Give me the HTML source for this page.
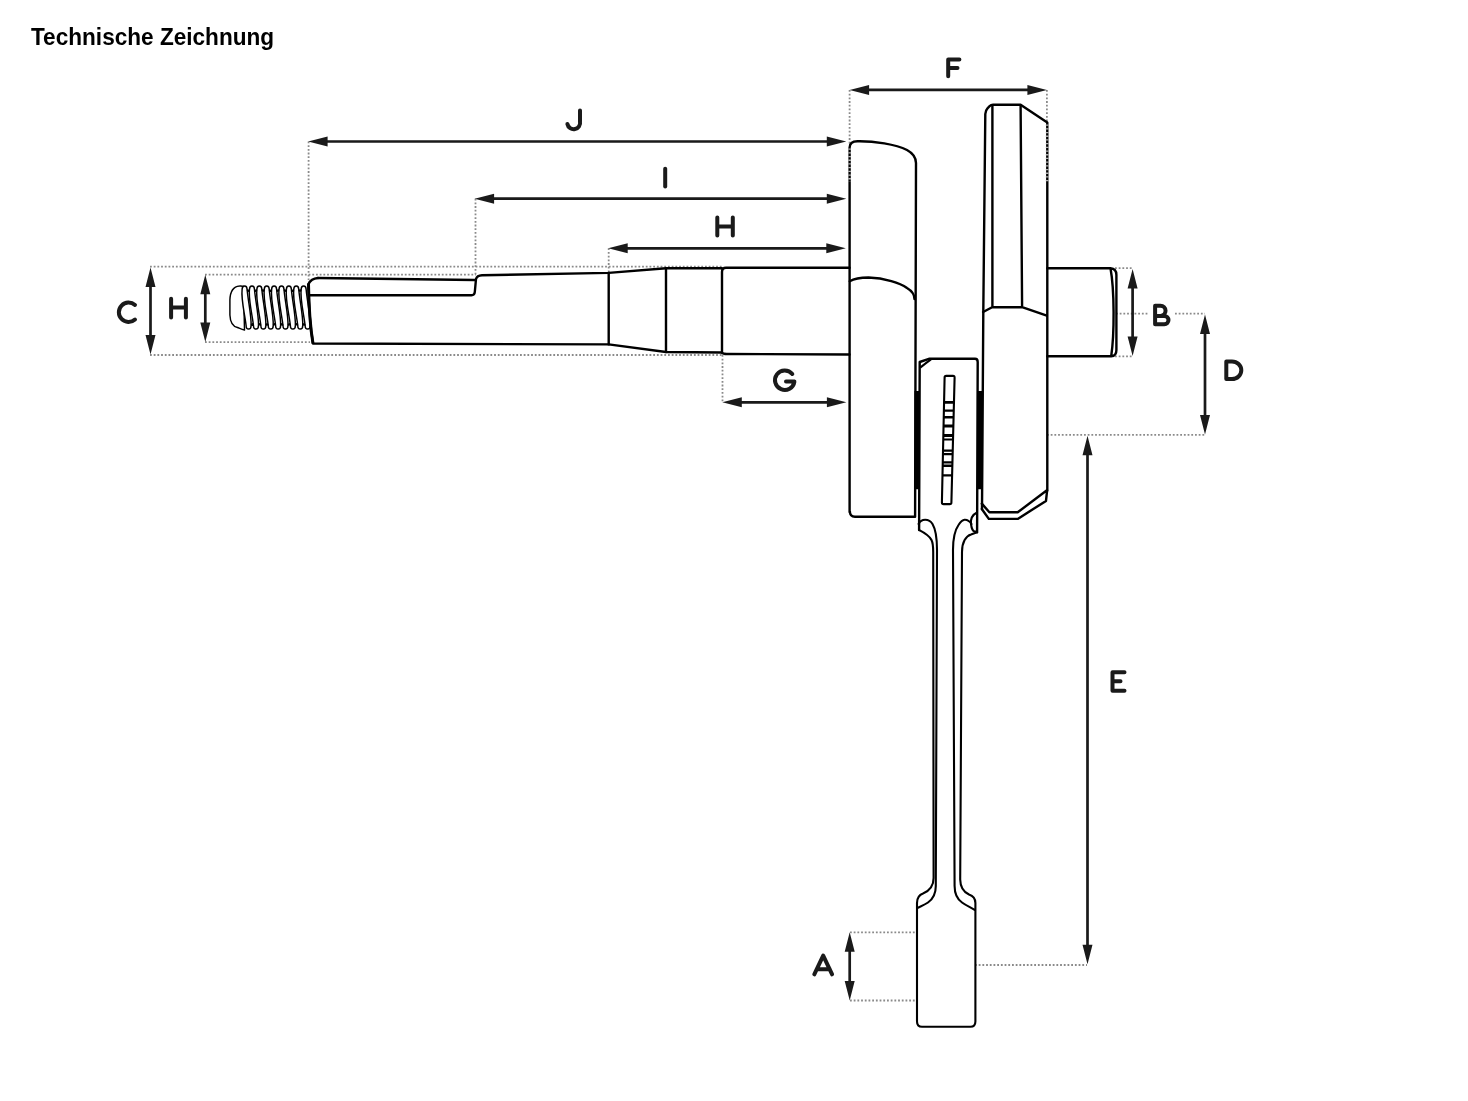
<!DOCTYPE html>
<html><head><meta charset="utf-8">
<style>
html,body{margin:0;padding:0;background:#fff;width:1468px;height:1101px;overflow:hidden}
.title{position:absolute;left:31.3px;top:23px;transform:scaleY(1.05);transform-origin:0 21.8px;font-family:"Liberation Sans",sans-serif;font-weight:bold;font-size:22.6px;letter-spacing:0px;color:#000;white-space:nowrap;line-height:30px;will-change:transform}
svg{position:absolute;left:0;top:0}
</style></head><body>
<div class="title">Technische Zeichnung</div>
<svg width="1468" height="1101" viewBox="0 0 1468 1101">
<!-- dotted extension lines -->
<g stroke="#8a8a8a" stroke-width="1.8" stroke-dasharray="1.8 1.9" fill="none">
<path d="M150 266.7H722 M205 274.7H476 M205 342.2H310 M150 355H722"/>
<path d="M308.6 141.5V280 M475.5 198.7V275 M608.7 248.3V273 M722.5 355V402.3"/>
<path d="M849.6 90V145 M1046.9 90V125"/>
<path d="M1115 268.2H1133.5 M1115 356.3H1133.5 M1116 313.6H1148 M1175 313.6H1205 M1047 434.9H1205"/>
<path d="M850 932.3H916 M850 1000.5H916 M975 965H1087"/>
</g>
<!-- dimension arrows -->
<g stroke="#1a1a1a" stroke-width="2.7" fill="none">
<path d="M150.5 285V337 M205.3 293V324 M326 141.5H828 M493 198.7H828 M626 248.3H828 M867 89.9H1029 M740 402.3H828 M1132.6 287V338 M1205 332V416 M1087.5 454V946 M849.7 950V982"/>
</g>
<g fill="#1a1a1a">
<path d="M150.5 267.4l5 19.5h-10z M150.5 354.5l5 -19.5h-10z"/>
<path d="M205.3 274.7l5 19.5h-10z M205.3 342.1l5 -19.5h-10z"/>
<path d="M308.1 141.5l19.5 -5v10z M846.3 141.5l-19.5 -5v10z"/>
<path d="M474.6 198.7l19.5 -5v10z M846.3 198.7l-19.5 -5v10z"/>
<path d="M608.2 248.3l19.5 -5v10z M845.8 248.3l-19.5 -5v10z"/>
<path d="M849.6 89.9l19.5 -5v10z M1046.9 89.9l-19.5 -5v10z"/>
<path d="M722.3 402.3l19.5 -5v10z M846.4 402.3l-19.5 -5v10z"/>
<path d="M1132.6 268.9l5 19.5h-10z M1132.6 356l5 -19.5h-10z"/>
<path d="M1205 314.5l5 19.5h-10z M1205 434.4l5 -19.5h-10z"/>
<path d="M1087.5 435.7l5 19.5h-10z M1087.5 964.3l5 -19.5h-10z"/>
<path d="M849.7 932.3l5 19.5h-10z M849.7 1000.4l5 -19.5h-10z"/>
</g>
<!-- letters -->
<g stroke="#1a1a1a" stroke-width="4" fill="none" stroke-linecap="round" stroke-linejoin="round">
<path d="M135 305 A9.7 9.7 0 1 0 135 319.5"/>
<path d="M171.1 298.7V317.5 M185.9 298.7V317.5 M171.1 307.6H185.9"/>
<path d="M717.3 217.4V235.6 M732.8 217.4V235.6 M717.3 226.5H732.8"/>
<path d="M580 110.5V121.5 A6.3 6.3 0 0 1 567.4 124"/>
<path d="M665.2 168.7V186.4"/>
<path d="M948.2 76.3V59.6H959.4 M948.2 68H957.5"/>
<path d="M792.3 374 A9.75 9.75 0 1 0 794.4 381.6 H786"/>
<path d="M1155.1 324.3V305.8H1160.5 A5.05 5.05 0 0 1 1160.5 315.9H1155.1 M1160.5 315.9H1164.3 A4.2 4.2 0 0 1 1164.3 324.3H1155.1"/>
<path d="M1226.3 361.4V379.1H1232 A9.3 8.85 0 0 0 1232 361.4Z"/>
<path d="M1124.5 672.2H1112.5V690.7H1124.5 M1112.5 681.2H1120.5"/>
<path d="M814.3 974.3L823.2 955.6L832.1 974.3 M816.8 969.2H829.8"/>
</g>
<!-- main outlines -->
<g stroke="#000" stroke-width="2.4" fill="none" stroke-linejoin="round" stroke-linecap="round">
<!-- shaft left -->
<path d="M318 278 L474.5 280 M309.5 295.3 H471.5 Q474.5 295.3 474.8 292 L476 279 Q477 275.5 482 275.2 L608.7 272.9 L666 268.3 H722"/>
<path d="M308.5 284 Q311 278.5 318 278"/>
<path d="M308.5 284 Q309 320 313 343.5 L608.7 344.4 L666 352 L722 352.5"/>
<path d="M608.7 273V344.4 M666 268.3V352"/>
<path d="M722 352.7 V272 Q722 267.7 726 267.7 H849.6 M722 352.7 Q723 354 727 354 L849.6 354.5"/>
<!-- web 1 -->
<path d="M849.6 512 V147.5 C849.6 143 852 141.3 857.5 141.2 C874 140.9 896 144.5 907 150 C912.5 153 916 157 916 163 L915.1 516.7 H855 Q849.8 516.7 849.8 511"/>
<path d="M849.7 281.2 C855 278 862 277.5 868.5 277.5 C885 278 900 283 907 288 C912 291 914.5 295 914.5 299"/>
<!-- web 2 -->
<path d="M982 509 L983.3 312 L985.3 114 Q985.4 110.5 987.5 108.3 L989.6 106.2 Q991 104.8 993 104.8 H1020.6 L1047.3 122.6 V490.5"/>
<path d="M992.4 105.4 V307.2 M1020.6 105.4 L1022.1 307.2 M983.1 312 L992.1 307.2 H1022.1 L1046.8 315.7"/>
<path d="M981.8 503.6 L989.4 512.3 H1017.7 L1046.6 490.5 M981.8 509 L988.8 518.9 H1017.7 L1046 500.9 L1047.1 490.5"/>
<!-- right shaft -->
<path d="M1047.3 268.2 H1110.5 C1114.5 290 1114.5 334 1111.2 356.3 H1047.3 M1110.5 268.2 Q1116.4 268.5 1116.4 275 V350 Q1116.4 356 1111.2 356.3"/>
<!-- con rod -->
<path d="M919.1 530 L919.7 362 L928.9 358.8 H975 Q977.7 358.8 977.7 362 L977.1 532.3"/>
</g>
<g stroke="#000" stroke-width="2.1" fill="none" stroke-linejoin="round" stroke-linecap="round">
<path d="M919.1 530 C923 532 929 535 931.5 540 C933 543 933.2 547 933.2 552 L933.6 878 C933.6 886 929 891 923 893.5 C919 895 917 898 917 903 V1021.5 Q917 1026.8 922 1026.8 H970.4 Q975.4 1026.8 975.4 1021.5 V903 C975.4 898 972 895.5 969 894.5 C963.5 892 960.3 886 960.2 879.5 L962 552 C962 542 966 536 971 534.5 L977.1 532.3"/>
<path d="M918.6 524 C920 521 922.5 519.8 925.2 519.8 C928.5 519.8 931 521.5 932.5 524 C935.5 529 937 538 937 550 L935.8 886 C935.8 893 933 899 928 902.5 C924.5 905 920 906.5 917.2 908"/>
<path d="M971.5 524 C969.5 521 967 519.6 964.5 519.8 C962.5 520 960.5 522 958.5 525 C955 530 953 538 953 550 L954.6 886 C954.6 893 957 899 962 902.5 C966 905.5 971 907.5 975 910"/>
<path d="M971 524 C970.5 519 973 514.5 977 512.5 M971 524 C971.5 528 972.5 531 974.5 531.5 H977"/>
</g>
<g stroke="#000" stroke-width="2.4" fill="none" stroke-linejoin="round" stroke-linecap="round">
<!-- slot -->
</g>
<g stroke="#000" stroke-width="2.1" fill="none" stroke-linejoin="round">
<path d="M946.2 375.9 H953 Q954.7 375.9 954.6 377.6 L951.4 502.4 Q951.4 504.1 949.7 504.1 H943.6 Q941.9 504.1 941.9 502.4 L944.6 377.6 Q944.6 375.9 946.2 375.9Z"/>
<path d="M920.2 367.6 C924 364.5 927.5 361.8 931 359.3"/>
</g>
<!-- slot bars -->
<g fill="#000">
<path d="M944.0 400.9H953.9v2.8H944.0z M943.9 409.4H953.7v2.4H943.9z M943.7 416.1H953.6v2.4H943.7z M943.5 424.4H953.3v3.2H943.5z M943.3 433.9H953.1v3.2H943.3z M943.3 438.4H953.0v2.2H943.3z M943.0 449.6H952.7v2.2H943.0z M943.0 453.0H952.6v2.3H943.0z M942.8 461.3H952.4v2.2H942.8z M942.7 464.5H952.4v2.5H942.7z M942.5 474.3H952.1v2.3H942.5z"/>
<!-- thick bearing bands -->
<path d="M914.5 391h5v98.3h-5z M977.6 391h5v98.3h-5z"/>
</g>
<!-- thread -->
<g stroke="#000" stroke-width="1.45" fill="#fff" stroke-linejoin="round">
<path d="M239.5 286 C233.5 286.5 230.2 291 229.9 300 V315 C230.2 322 233 326.5 237.5 327.5 C240 328.5 242 329.5 244.5 330 L243.5 286.5 C242.5 286 241 285.8 239.5 286Z"/>
<path d="M242.10 289.5 C242.10 284.8 247.10 284.8 247.10 289.5 C248.00 300 251.50 316 251.10 325.5 C251.10 330.3 246.10 330.3 246.10 325.5 C244.90 315 240.90 299 242.10 289.5Z"/>
<path d="M249.48 289.5 C249.48 284.8 254.48 284.8 254.48 289.5 C255.38 300 258.88 316 258.48 325.5 C258.48 330.3 253.48 330.3 253.48 325.5 C252.28 315 248.28 299 249.48 289.5Z"/>
<path d="M256.86 289.5 C256.86 284.8 261.86 284.8 261.86 289.5 C262.76 300 266.26 316 265.86 325.5 C265.86 330.3 260.86 330.3 260.86 325.5 C259.66 315 255.66 299 256.86 289.5Z"/>
<path d="M264.24 289.5 C264.24 284.8 269.24 284.8 269.24 289.5 C270.14 300 273.64 316 273.24 325.5 C273.24 330.3 268.24 330.3 268.24 325.5 C267.04 315 263.04 299 264.24 289.5Z"/>
<path d="M271.62 289.5 C271.62 284.8 276.62 284.8 276.62 289.5 C277.52 300 281.02 316 280.62 325.5 C280.62 330.3 275.62 330.3 275.62 325.5 C274.42 315 270.42 299 271.62 289.5Z"/>
<path d="M279.00 289.5 C279.00 284.8 284.00 284.8 284.00 289.5 C284.90 300 288.40 316 288.00 325.5 C288.00 330.3 283.00 330.3 283.00 325.5 C281.80 315 277.80 299 279.00 289.5Z"/>
<path d="M286.38 289.5 C286.38 284.8 291.38 284.8 291.38 289.5 C292.28 300 295.78 316 295.38 325.5 C295.38 330.3 290.38 330.3 290.38 325.5 C289.18 315 285.18 299 286.38 289.5Z"/>
<path d="M293.76 289.5 C293.76 284.8 298.76 284.8 298.76 289.5 C299.66 300 303.16 316 302.76 325.5 C302.76 330.3 297.76 330.3 297.76 325.5 C296.56 315 292.56 299 293.76 289.5Z"/>
<path d="M301.14 289.5 C301.14 284.8 306.14 284.8 306.14 289.5 C307.04 300 310.54 316 310.14 325.5 C310.14 330.3 305.14 330.3 305.14 325.5 C303.94 315 299.94 299 301.14 289.5Z"/>
<path fill="none" d="M247.10 289.5L248.29 291.3L249.48 289.5 M251.10 325.5L252.29 323.7L253.48 325.5 M254.48 289.5L255.67 291.3L256.86 289.5 M258.48 325.5L259.67 323.7L260.86 325.5 M261.86 289.5L263.05 291.3L264.24 289.5 M265.86 325.5L267.05 323.7L268.24 325.5 M269.24 289.5L270.43 291.3L271.62 289.5 M273.24 325.5L274.43 323.7L275.62 325.5 M276.62 289.5L277.81 291.3L279.00 289.5 M280.62 325.5L281.81 323.7L283.00 325.5 M284.00 289.5L285.19 291.3L286.38 289.5 M288.00 325.5L289.19 323.7L290.38 325.5 M291.38 289.5L292.57 291.3L293.76 289.5 M295.38 325.5L296.57 323.7L297.76 325.5 M298.76 289.5L299.95 291.3L301.14 289.5 M302.76 325.5L303.95 323.7L305.14 325.5"/>
</g>
<g stroke="#000" stroke-width="3" fill="none"><path d="M308.5 284 Q309 320 313 343.5"/></g>
<g stroke="#b0b0b0" stroke-width="2.8" stroke-dasharray="1.3 2.4" fill="none"><path d="M849.6 148.5V182 M1047.2 124.5V182"/></g>
</svg>
<script>
</script>
</body></html>
